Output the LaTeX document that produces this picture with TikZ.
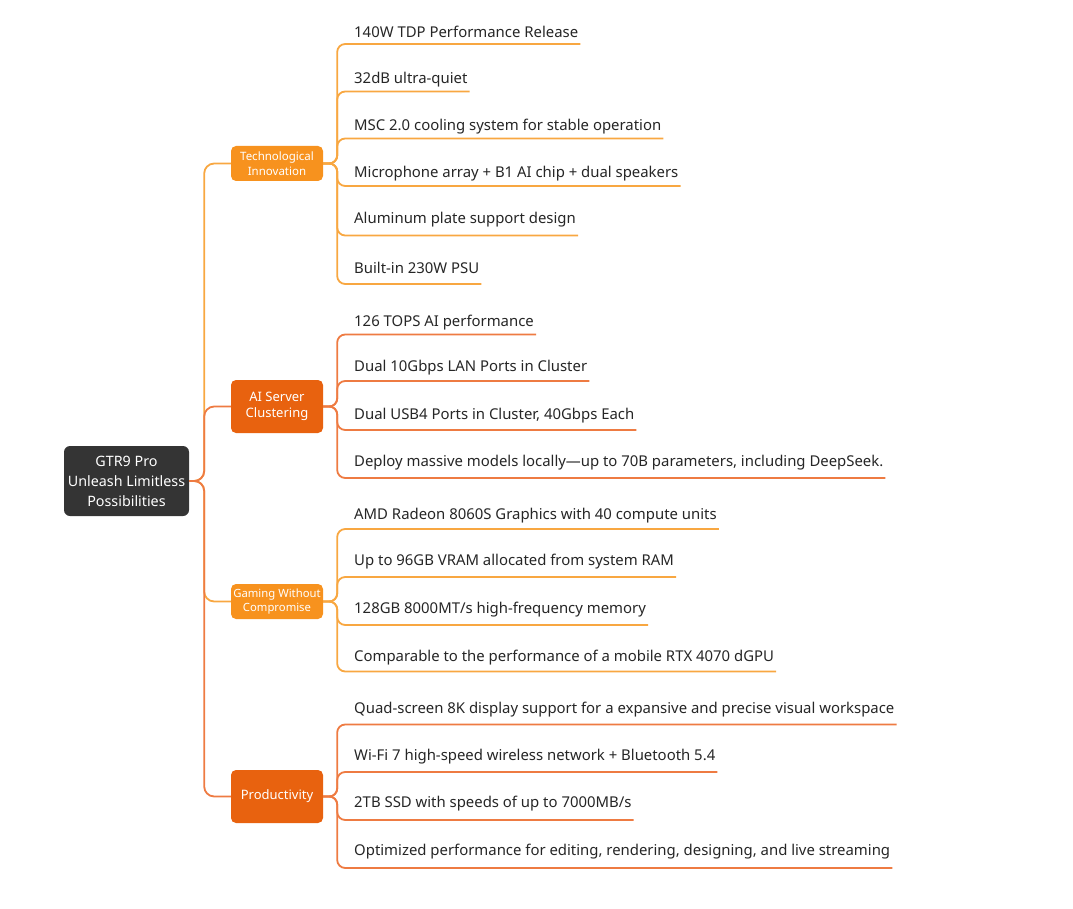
\documentclass[tikz,border=0pt]{standalone}
\usepackage{fontspec}
\setmainfont{Noto Sans}
\usetikzlibrary{calc}
\definecolor{lightor}{HTML}{F7921E}
\definecolor{darkor}{HTML}{E8620F}
\definecolor{lightln}{HTML}{F8A741}
\definecolor{darkln}{HTML}{EE7B42}
\definecolor{rootc}{HTML}{343434}
\definecolor{txt}{HTML}{262626}
\newcommand\mmleaf[6]{%
  \node[leaf] (#1) at (354,#4+1.5) {#6};
  \draw[twig,#3] (#2.east) -- ++(14,0) |- ([shift={(2,#5-1.5)}]#1.base east);}
\begin{document}
\begin{tikzpicture}[x=1pt,y=-1pt,
 rootbox/.style={fill=rootc, rounded corners=6pt, text=white, minimum width=125pt, minimum height=70pt, align=center, font=\fontsize{14.3}{20}\selectfont, inner sep=0},
 branchbox/.style={rounded corners=5pt, text=white, minimum width=92pt, align=center, inner sep=0},
 leaf/.style={anchor=base west, inner sep=0, text=txt, font=\fontsize{14.9}{17}\selectfont},
 trunk/.style={line width=1.8pt, rounded corners=10pt},
 twig/.style={line width=1.8pt, rounded corners=8pt},
]
\useasboundingbox (0,0) rectangle (1073,909);
\node[rootbox] (root) at (126.5,481) {GTR9 Pro\\Unleash Limitless\\Possibilities};
\node[branchbox, fill=lightor, minimum height=35pt, font=\fontsize{11.5}{14.5}\selectfont] (tech) at (277,163.5) {Technological\\Innovation};
\node[branchbox, fill=darkor, minimum height=53pt, font=\fontsize{13}{16.5}\selectfont] (ai) at (277,406.5) {AI Server\\Clustering};
\node[branchbox, fill=lightor, minimum height=35pt, font=\fontsize{11.3}{14.5}\selectfont] (game) at (277,601.5) {Gaming Without\\Compromise};
\node[branchbox, fill=darkor, minimum height=53pt, font=\fontsize{13}{16.5}\selectfont] (prod) at (277,796.5) {Productivity};
\draw[trunk, lightln] (root.east) -- ++(15,0) |- (tech.west);
\draw[trunk, lightln] (root.east) -- ++(15,0) |- (game.west);
\draw[trunk, darkln] (root.east) -- ++(15,0) |- (ai.west);
\draw[trunk, darkln] (root.east) -- ++(15,0) |- (prod.west);
% Tech
\mmleaf{t1}{tech}{lightln}{36}{8}{140W TDP Performance Release}
\mmleaf{t2}{tech}{lightln}{82}{9.5}{32dB ultra-quiet}
\mmleaf{t3}{tech}{lightln}{129.5}{9}{MSC 2.0 cooling system for stable operation}
\mmleaf{t4}{tech}{lightln}{176.5}{9.5}{Microphone array + B1 AI chip + dual speakers}
\mmleaf{t5}{tech}{lightln}{222.5}{13}{Aluminum plate support design}
\mmleaf{t6}{tech}{lightln}{272.5}{11.5}{Built-in 230W PSU}
% AI
\mmleaf{a1}{ai}{darkln}{324.5}{10}{126 TOPS AI performance}
\mmleaf{a2}{ai}{darkln}{369.5}{11.5}{Dual 10Gbps LAN Ports in Cluster}
\mmleaf{a3}{ai}{darkln}{417.5}{12.5}{Dual USB4 Ports in Cluster, 40Gbps Each}
\mmleaf{a4}{ai}{darkln}{464.5}{13.5}{Deploy massive models locally—up to 70B parameters, including DeepSeek.}
% Gaming
\mmleaf{g1}{game}{lightln}{517.5}{11.5}{AMD Radeon 8060S Graphics with 40 compute units}
\mmleaf{g2}{game}{lightln}{563.5}{13.5}{Up to 96GB VRAM allocated from system RAM}
\mmleaf{g3}{game}{lightln}{611.5}{13.5}{128GB 8000MT/s high-frequency memory}
\mmleaf{g4}{game}{lightln}{659.5}{12}{Comparable to the performance of a mobile RTX 4070 dGPU}
% Productivity
\mmleaf{p1}{prod}{darkln}{711.5}{13}{Quad-screen 8K display support for a expansive and precise visual workspace}
\mmleaf{p2}{prod}{darkln}{758.5}{13.5}{Wi-Fi 7 high-speed wireless network + Bluetooth 5.4}
\mmleaf{p3}{prod}{darkln}{805.5}{14.5}{2TB SSD with speeds of up to 7000MB/s}
\mmleaf{p4}{prod}{darkln}{853.5}{14.5}{Optimized performance for editing, rendering, designing, and live streaming}
\end{tikzpicture}
\end{document}
